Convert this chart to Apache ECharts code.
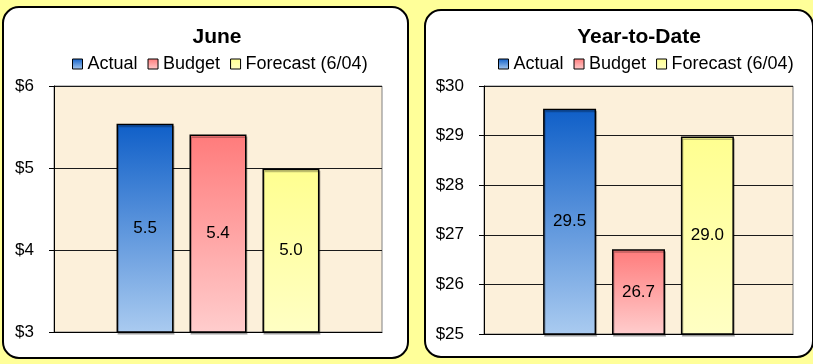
<!DOCTYPE html>
<html><head><meta charset="utf-8">
<script src="https://cdn.jsdelivr.net/npm/echarts@6/dist/echarts.min.js"></script>
<style>html,body{margin:0;padding:0;background:#FFFF99;}#c{width:813px;height:364px;}</style>
</head><body><div id="c"></div>
<script>
const seriesNames = ['Actual', 'Budget', 'Forecast (6/04)'];
const panelTitles = ['June', 'Year-to-Date'];
const juneValues = [5.54, 5.41, 4.99];
const ytdValues = [29.54, 26.71, 28.98];
const juneAxis = { min: 3, max: 6, interval: 1 };
const ytdAxis = { min: 25, max: 30, interval: 1 };

const FONT = "'Liberation Sans', Arial, sans-serif";
function grad(top, bottom) {
  return new echarts.graphic.LinearGradient(0, 0, 0, 1, [{offset: 0, color: top}, {offset: 1, color: bottom}]);
}
const fills = [
  () => grad('#0F5FC8', '#AACBF0'),
  () => grad('#FF7B7B', '#FFCDCD'),
  () => grad('#FFFF90', '#FFFFC4')
];

const chart = echarts.init(document.getElementById('c'), null, {renderer: 'canvas'});

function yAx(idx, cfg) {
  return {
    type: 'value', gridIndex: idx, min: cfg.min, max: cfg.max, interval: cfg.interval,
    axisLine: {show: true, lineStyle: {color: '#000', width: 1}},
    axisTick: {show: true, length: 5, lineStyle: {color: '#000'}},
    axisLabel: {formatter: v => '$' + v, color: '#000', fontSize: 17, fontFamily: FONT, margin: 20},
    splitLine: {show: true, lineStyle: {color: '#1a1a1a', width: 1}}
  };
}
function xAx(idx) {
  return {
    type: 'category', gridIndex: idx, data: [''],
    axisLine: {show: true, lineStyle: {color: '#000', width: 1}},
    axisTick: {show: false}, axisLabel: {show: false}, splitLine: {show: false}
  };
}
function barSeries(values, gi, bw, gap) {
  return values.map((v, i) => ({
    type: 'bar', name: seriesNames[i], xAxisIndex: gi, yAxisIndex: gi,
    data: [v], barWidth: bw, barGap: gap,
    itemStyle: {color: fills[i](), borderColor: '#000', borderWidth: 1.5,
      shadowColor: 'rgba(0,0,0,0.25)', shadowOffsetX: 1, shadowOffsetY: 2, shadowBlur: 0},
    label: {show: true, position: 'inside', color: '#000', fontSize: 17, fontFamily: FONT,
      formatter: p => p.value.toFixed(1)},
    emphasis: {disabled: true}
  }));
}
const legendCommon = {
  data: seriesNames, icon: 'rect', itemWidth: 10, itemHeight: 10, itemGap: 10,
  itemStyle: {borderColor: '#000', borderWidth: 1},
  textStyle: {color: '#000', fontSize: 18, fontFamily: FONT}, selectedMode: false
};

chart.setOption({
  animation: false,
  graphic: [
    {type: 'rect', z: -10, shape: {x: 3, y: 7, width: 405, height: 351, r: 16},
      style: {fill: '#fff', stroke: '#000', lineWidth: 2}},
    {type: 'rect', z: -10, shape: {x: 425, y: 10, width: 388, height: 347, r: 16},
      style: {fill: '#fff', stroke: '#000', lineWidth: 2}}
  ],
  title: [
    {text: panelTitles[0], left: 212, top: 22, textAlign: 'center',
      textStyle: {fontSize: 21, fontWeight: 'bold', color: '#000', fontFamily: FONT}},
    {text: panelTitles[1], left: 634, top: 22, textAlign: 'center',
      textStyle: {fontSize: 21, fontWeight: 'bold', color: '#000', fontFamily: FONT}}
  ],
  legend: [
    Object.assign({left: 67, top: 50}, legendCommon),
    Object.assign({left: 493, top: 50}, legendCommon)
  ],
  grid: [
    {left: 54, right: 431, top: 86, bottom: 32, show: true, backgroundColor: '#FCF0DA', borderColor: '#808080', borderWidth: 1},
    {left: 484, right: 20, top: 86, bottom: 30, show: true, backgroundColor: '#FCF0DA', borderColor: '#808080', borderWidth: 1}
  ],
  xAxis: [xAx(0), xAx(1)],
  yAxis: [yAx(0, juneAxis), yAx(1, ytdAxis)],
  series: [].concat(barSeries(juneValues, 0, 57, '28%'), barSeries(ytdValues, 1, 53, '30%'))
});
</script></body></html>
